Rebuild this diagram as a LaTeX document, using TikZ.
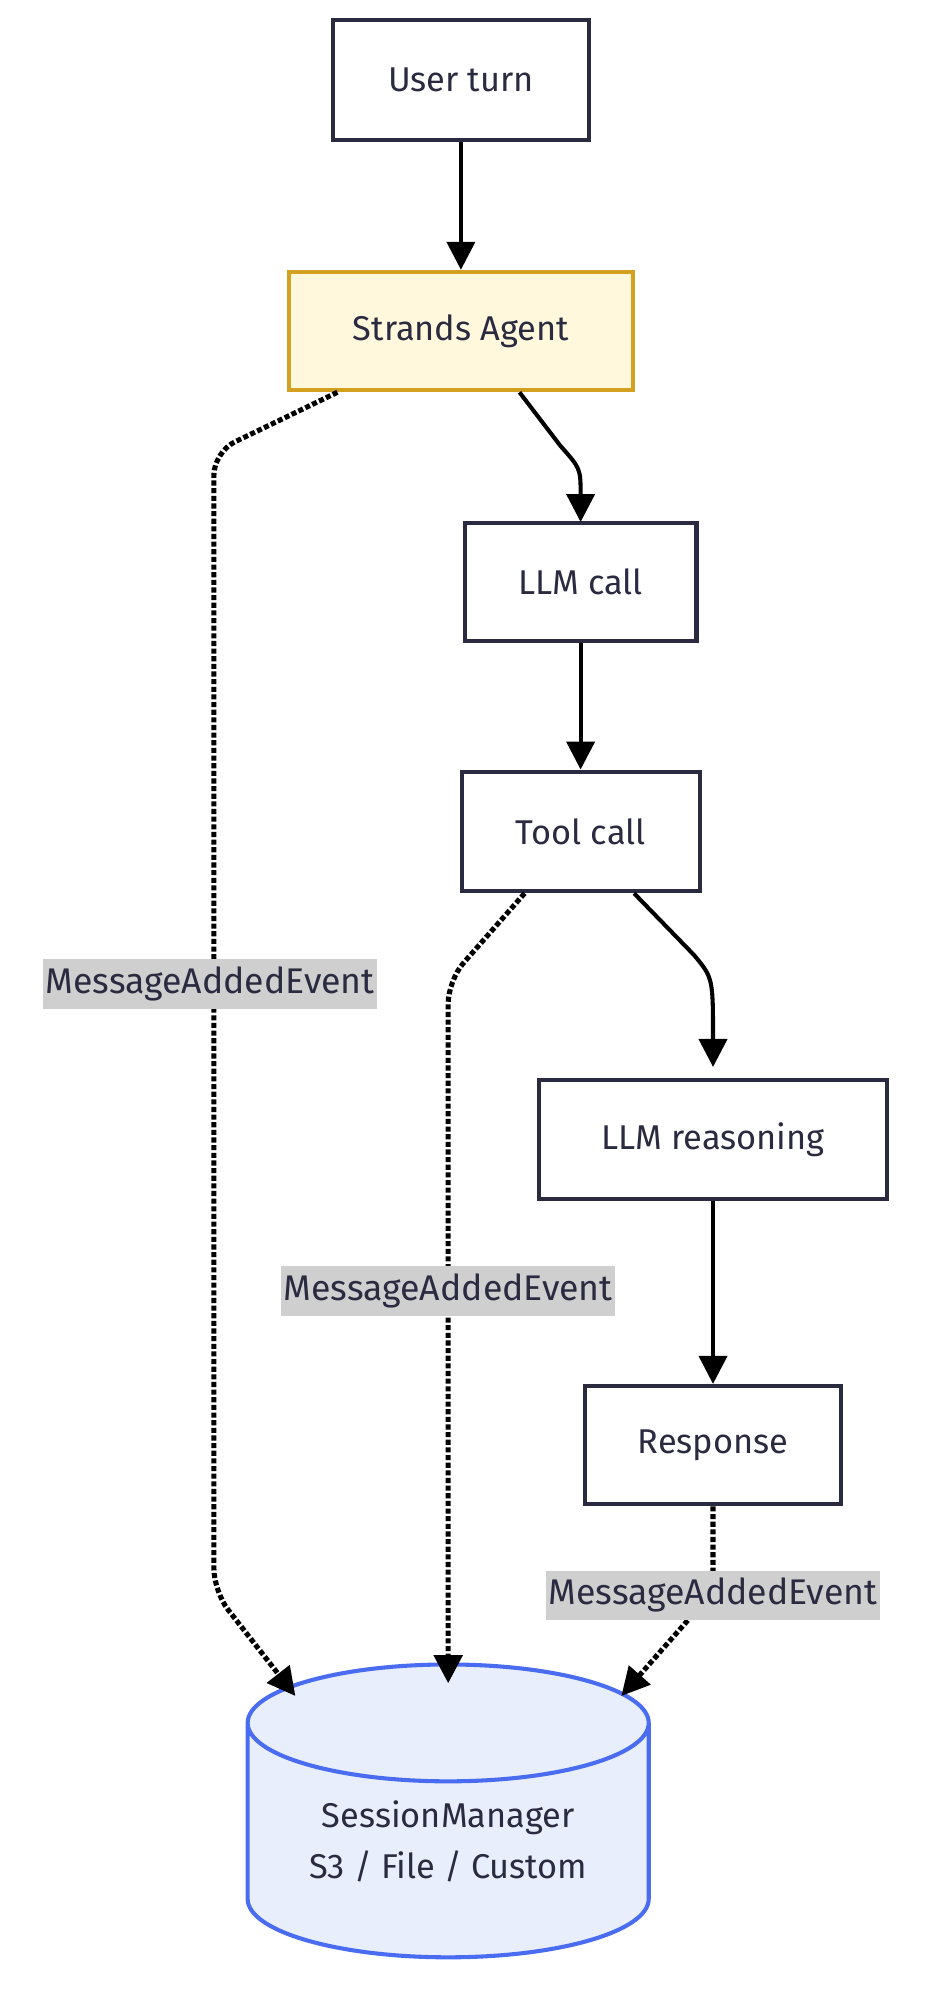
\documentclass[tikz,border=0pt]{standalone}
\usepackage{fontspec}
\setmainfont{Fira Sans}
\usetikzlibrary{shapes.geometric,arrows.meta}
\definecolor{ink}{HTML}{2A2A40}
\definecolor{agfill}{HTML}{FFF8DC}
\definecolor{agline}{HTML}{D4A020}
\definecolor{cyfill}{HTML}{E8EEFC}
\definecolor{cyline}{HTML}{4A6CF0}
\definecolor{lblbg}{HTML}{CFCFCF}
\tikzset{
 x=1pt,y=-1pt,
 box/.style={draw=ink,line width=3.2pt,fill=white,text=ink,font=\fontsize{27}{32}\selectfont,inner sep=0pt},
 flow/.style={line width=3.2pt,-{Triangle[length=22pt,width=22pt]}},
 evt/.style={line width=4pt,dotted,-{Triangle[length=22pt,width=22pt]}},
 lbl/.style={fill=lblbg,text=ink,font=\fontsize{28}{32}\selectfont,inner xsep=2pt,inner ysep=6pt}
}
\begin{document}
\begin{tikzpicture}
\useasboundingbox (0,0) rectangle (727,1570);
\node[box,minimum width=201pt,minimum height=94pt] (user) at (362,63) {User turn};
\node[box,draw=agline,fill=agfill,minimum width=270pt,minimum height=93pt] (agent) at (362,260) {Strands Agent};
\node[box,minimum width=182pt,minimum height=93pt] (llm) at (456,457) {LLM call};
\node[box,minimum width=187pt,minimum height=94pt] (tool) at (456,653) {Tool call};
\node[box,minimum width=273pt,minimum height=93pt] (reason) at (560,895) {LLM reasoning};
\node[box,minimum width=201pt,minimum height=93pt] (resp) at (560,1135) {Response};
\node[cylinder,shape border rotate=90,draw=cyline,fill=cyfill,line width=3.2pt,aspect=0.42,minimum width=315pt,minimum height=230pt,text=ink,align=center,font=\fontsize{27}{40}\selectfont,inner sep=0pt] (sm) at (352,1446) {SessionManager\\S3 / File / Custom};
\coordinate (c1) at (168,355);
\coordinate (c2) at (168,1250);
\coordinate (c3) at (352,770);
\coordinate (c4) at (560,1250);
\draw[flow] (agent.south)++(46,0) coordinate (a1) (a1) -- (440,350) .. controls (456,368) .. (456,410);
\draw[flow] (user) -- (agent);
\draw[flow] (llm) -- (tool);
\draw[flow] (tool.south)++(42,0) coordinate (t1) (t1) -- (545,750) .. controls (560,768) .. (560,838);
\draw[flow] (reason) -- (resp);
\draw[evt,rounded corners=18pt] (agent.south)++(-97,0) coordinate (a2) (a2) -- (c1) -- (c2) -- (232,1332);
\draw[evt,rounded corners=18pt] (tool.south)++(-44,0) coordinate (t2) (t2) -- (c3) -- (352,1322);
\draw[evt,rounded corners=10pt] (resp.south) -- (c4) -- (488,1332);
\node[lbl] (l1) at (165,773) {MessageAddedEvent};
\node[lbl] (l2) at (352,1014) {MessageAddedEvent};
\node[lbl] (l3) at (560,1253) {MessageAddedEvent};
\end{tikzpicture}
\end{document}
